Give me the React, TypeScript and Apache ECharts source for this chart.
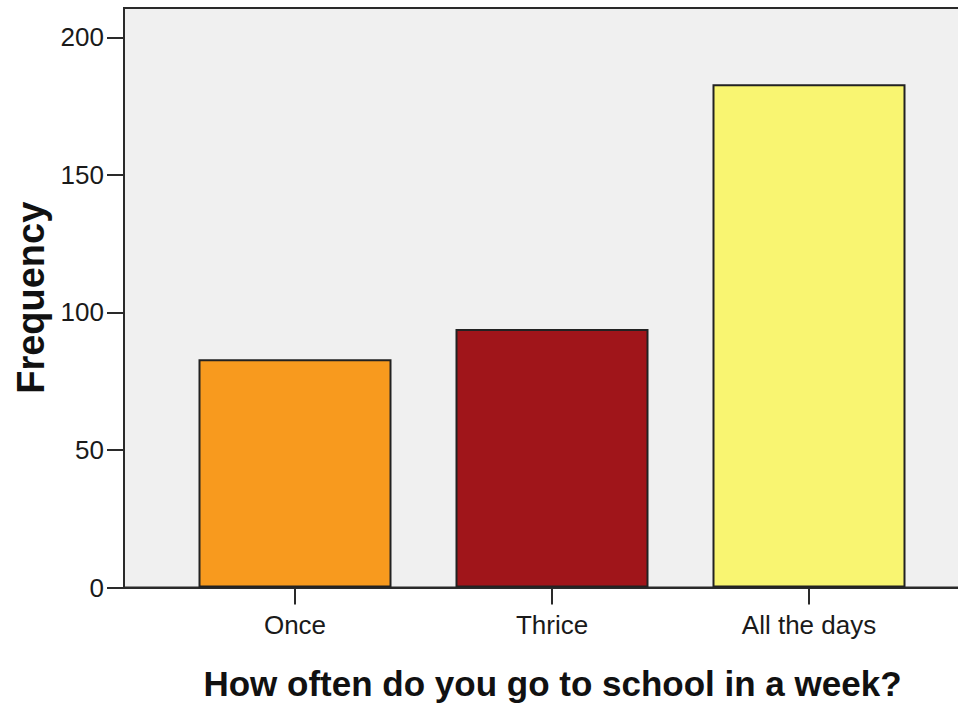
import React, { useEffect, useRef } from "react";
import * as echarts from "echarts";

const categories = ["Once", "Thrice", "All the days"];
const frequencies = [83, 94, 183];
const barColors = ["#F89A1E", "#A0151A", "#F9F571"];
const yTickValues = [0, 50, 100, 150, 200];
const xTitle = "How often do you go to school in a week?";
const yTitle = "Frequency";

const CHART_W = 1000;
const CHART_H = 708;

export default function App() {
  const ref = useRef<HTMLDivElement>(null);
  useEffect(() => {
    if (!ref.current) return;
    const chart = echarts.init(ref.current, null, { renderer: "svg" });
    const pxPerUnit = 257;
    const gridLeft = 124;
    const gridRightPx = 981;
    const xMin = 1 - (295 - gridLeft) / pxPerUnit;
    const xMax = xMin + (gridRightPx - gridLeft) / pxPerUnit;
    const font = "'Liberation Sans', Arial, sans-serif";
    chart.setOption({
      animation: false,
      backgroundColor: "#ffffff",
      grid: {
        left: gridLeft,
        top: 8,
        bottom: 120.5,
        right: CHART_W - gridRightPx,
        show: true,
        backgroundColor: "#F0F0F0",
        borderColor: "#2a2a2a",
        borderWidth: 2,
      },
      xAxis: {
        type: "value",
        min: xMin,
        max: xMax,
        name: xTitle,
        nameLocation: "middle",
        nameGap: 78,
        nameTextStyle: { fontFamily: font, fontSize: 35, fontWeight: "bold", color: "#111" },
        splitLine: { show: false },
        axisLine: { show: true, lineStyle: { color: "#2a2a2a", width: 2 } },
        axisTick: {
          show: true,
          length: 17,
          lineStyle: { color: "#2a2a2a", width: 2 },
          customValues: [1, 2, 3],
        },
        axisLabel: {
          show: true,
          margin: 24,
          fontFamily: font,
          fontSize: 26,
          color: "#1a1a1a",
          customValues: [1, 2, 3],
          formatter: (v: number) => categories[Math.round(v) - 1] ?? "",
        },
      },
      yAxis: {
        type: "value",
        min: 0,
        max: 210.7,
        name: yTitle,
        nameLocation: "middle",
        nameGap: 70,
        nameTextStyle: { fontFamily: font, fontSize: 38, fontWeight: "bold", color: "#111" },
        splitLine: { show: false },
        axisLine: { show: true, lineStyle: { color: "#2a2a2a", width: 2 } },
        axisTick: {
          show: true,
          length: 17,
          lineStyle: { color: "#2a2a2a", width: 2 },
          customValues: yTickValues,
        },
        axisLabel: {
          show: true,
          margin: 20,
          fontFamily: font,
          fontSize: 26,
          color: "#1a1a1a",
          customValues: yTickValues,
        },
      },
      series: [
        {
          type: "bar",
          barWidth: 193,
          data: frequencies.map((f, i) => ({
            value: [i + 1, f],
            itemStyle: { color: barColors[i], borderColor: "#222", borderWidth: 2 },
          })),
        },
      ],
    });
    return () => chart.dispose();
  }, []);
  return (
    <div
      style={{
        position: "fixed",
        left: 0,
        top: 0,
        width: 958,
        height: 708,
        overflow: "hidden",
        background: "#fff",
      }}
    >
      <div ref={ref} style={{ width: CHART_W, height: CHART_H }} />
    </div>
  );
}
